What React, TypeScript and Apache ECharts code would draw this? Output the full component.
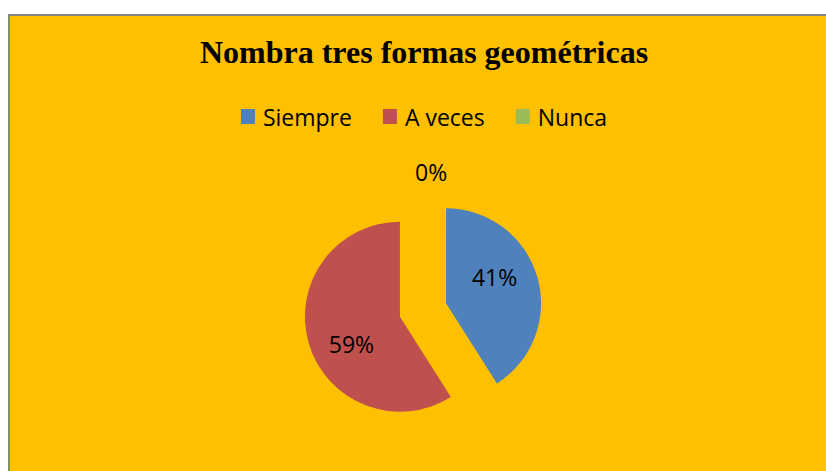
import React, { useEffect, useRef } from "react";
import * as echarts from "echarts";

const titleText = "Nombra tres formas geométricas";
const categories = ["Siempre", "A veces", "Nunca"];
const values = [41, 59, 0];
const colors = ["#4F81BD", "#C0504D", "#9BBB59"];

export default function App() {
  const ref = useRef<HTMLDivElement>(null);
  useEffect(() => {
    document.body.style.margin = "0";
    const chart = echarts.init(ref.current!, null, { renderer: "svg" });
    const data = categories.map((name, i) => {
      const item: any = {
        name,
        value: values[i],
        selected: true,
        itemStyle: { color: colors[i] },
      };
      if (values[i] === 0) {
        item.label = { position: "outside" };
        item.labelLine = { show: false, length: 19, length2: 0 };
      }
      return item;
    });
    const labelShift = [
      { dy: -12 },
      { dy: 13 },
      { align: "left", dx: -3 },
    ];
    chart.setOption({
      animation: false,
      backgroundColor: "#ffffff",
      graphic: [
        {
          type: "rect",
          z: -10,
          shape: { x: 9, y: 15, width: 900, height: 500 },
          style: { fill: "#FFC000", stroke: "#868686", lineWidth: 2 },
        },
      ],
      title: {
        text: titleText,
        left: "center",
        top: 31,
        textStyle: {
          fontFamily: "Liberation Serif",
          fontWeight: "bold",
          fontSize: 32,
          color: "#000",
        },
      },
      legend: {
        top: 100,
        left: "center",
        icon: "rect",
        itemWidth: 14,
        itemHeight: 15,
        itemGap: 31,
        textStyle: {
          fontFamily: "Open Sans",
          fontSize: 23,
          color: "#000",
          padding: [0, 0, 0, 3],
        },
        data: categories,
      },
      series: [
        {
          type: "pie",
          center: [423, 310],
          radius: 95,
          startAngle: 90,
          clockwise: true,
          selectedMode: "multiple",
          selectedOffset: 24,
          stillShowZeroSum: true,
          emphasis: { disabled: true },
          label: {
            show: true,
            position: "inside",
            formatter: "{d}%",
            fontFamily: "Open Sans",
            fontSize: 23,
            color: "#000",
          },
          labelLayout: (params: any) => labelShift[params.dataIndex] || {},
          labelLine: { show: false },
          data,
        },
      ],
    });
    return () => chart.dispose();
  }, []);
  return (
    <div style={{ width: 826, height: 471, overflow: "hidden" }}>
      <div ref={ref} style={{ width: 848, height: 471 }} />
    </div>
  );
}
